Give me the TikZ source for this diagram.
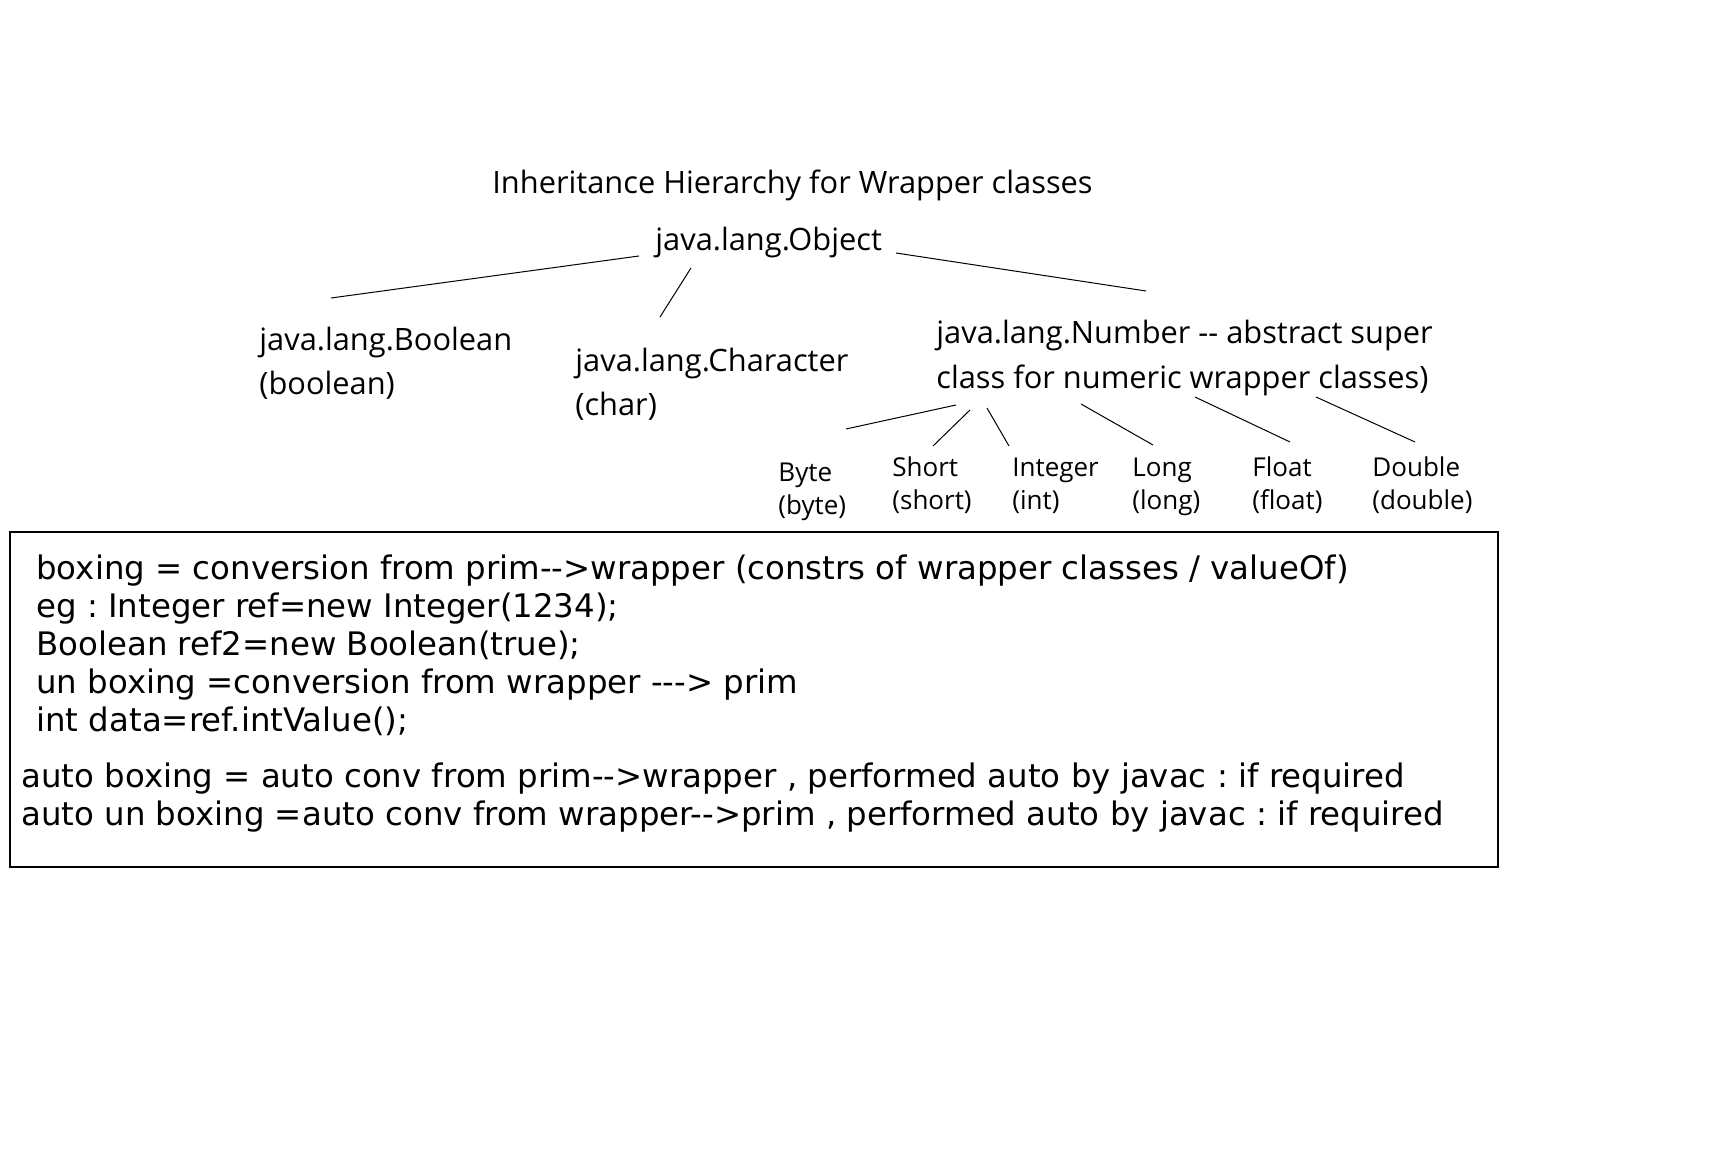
\documentclass[tikz,border=0pt]{standalone}
\usepackage{fontspec}
\setmainfont{Open Sans}
\newfontfamily\boxfont{DejaVu Sans}
\frenchspacing
\begin{document}
\begin{tikzpicture}[x=0.5pt,y=-0.5pt,
  lbl/.style={inner sep=0pt, anchor=base west, font=\fontsize{15.4}{22}\selectfont},
  sub/.style={inner sep=0pt, anchor=base west, font=\fontsize{13}{16.5}\selectfont},
  txt/.style={inner sep=0pt, anchor=base west, font=\boxfont\fontsize{16.2}{18.9}\selectfont},
  edge/.style={line width=0.5pt},
  frame/.style={line width=1.4pt}]
\useasboundingbox (0,0) rectangle (1731,1154);
\fill[white] (0,0) rectangle (1731,1154);

% titles and classes
\node[lbl] (title) at (492,194) {Inheritance Hierarchy for Wrapper classes};
\node[lbl] (obj) at (655,251) {java.lang.Object};
\node[lbl] (bool1) at (259,351) {java.lang.Boolean};
\node[lbl] (bool2) at (259,395) {(boolean)};
\node[lbl] (char1) at (575,372) {java.lang.Character};
\node[lbl] (char2) at (575,416) {(char)};
\node[lbl] (num1) at (936,344) {java.lang.Number -{}- abstract super};
\node[lbl] (num2) at (936,389) {class for numeric wrapper classes)};

\node[sub] (byte1) at (778,482) {Byte};
\node[sub] (byte2) at (778,515) {(byte)};
\node[sub] (short1) at (892,477) {Short};
\node[sub] (short2) at (892,510) {(short)};
\node[sub] (int1) at (1012,477) {Integer};
\node[sub] (int2) at (1012,510) {(int)};
\node[sub] (long1) at (1132,477) {Long};
\node[sub] (long2) at (1132,510) {(long)};
\node[sub] (float1) at (1252,477) {Float};
\node[sub] (float2) at (1252,510) {(float)};
\node[sub] (dbl1) at (1372,477) {Double};
\node[sub] (dbl2) at (1372,510) {(double)};

% connector end points
\coordinate (oL) at (639,256); \coordinate (bT) at (331,298);
\coordinate (oM) at (691,268); \coordinate (cT) at (660,317);
\coordinate (oR) at (896,253); \coordinate (nT) at (1146,291);
\coordinate (n1) at (956,405); \coordinate (by) at (846,429);
\coordinate (n2) at (970,410); \coordinate (sh) at (933,446);
\coordinate (n3) at (987,408); \coordinate (in) at (1009,446);
\coordinate (n4) at (1081,404); \coordinate (lo) at (1153,445);
\coordinate (n5) at (1195,397); \coordinate (fl) at (1290,442);
\coordinate (n6) at (1316,397); \coordinate (db) at (1415,442);

\draw[edge] (oL) -- (bT);
\draw[edge] (oM) -- (cT);
\draw[edge] (oR) -- (nT);
\draw[edge] (n1) -- (by);
\draw[edge] (n2) -- (sh);
\draw[edge] (n3) -- (in);
\draw[edge] (n4) -- (lo);
\draw[edge] (n5) -- (fl);
\draw[edge] (n6) -- (db);

% notes box
\draw[frame] (10,532) rectangle (1498,867);
\node[txt] (t1) at (36,580) {boxing = conversion from prim-->wrapper (constrs of wrapper classes / valueOf)};
\node[txt] (t2) at (36,617.8) {eg : Integer ref=new Integer(1234);};
\node[txt] (t3) at (36,655.6) {Boolean ref2=new Boolean(true);};
\node[txt] (t4) at (36,693.4) {un boxing =conversion from wrapper ---> prim};
\node[txt] (t5) at (36,731.2) {int data=ref.intValue();};
\node[txt] (t6) at (21,788) {auto boxing = auto conv from prim-->wrapper , performed auto by javac : if required};
\node[txt] (t7) at (21,826) {auto un boxing =auto conv from wrapper-->prim , performed auto by javac : if required};
\end{tikzpicture}
\end{document}
